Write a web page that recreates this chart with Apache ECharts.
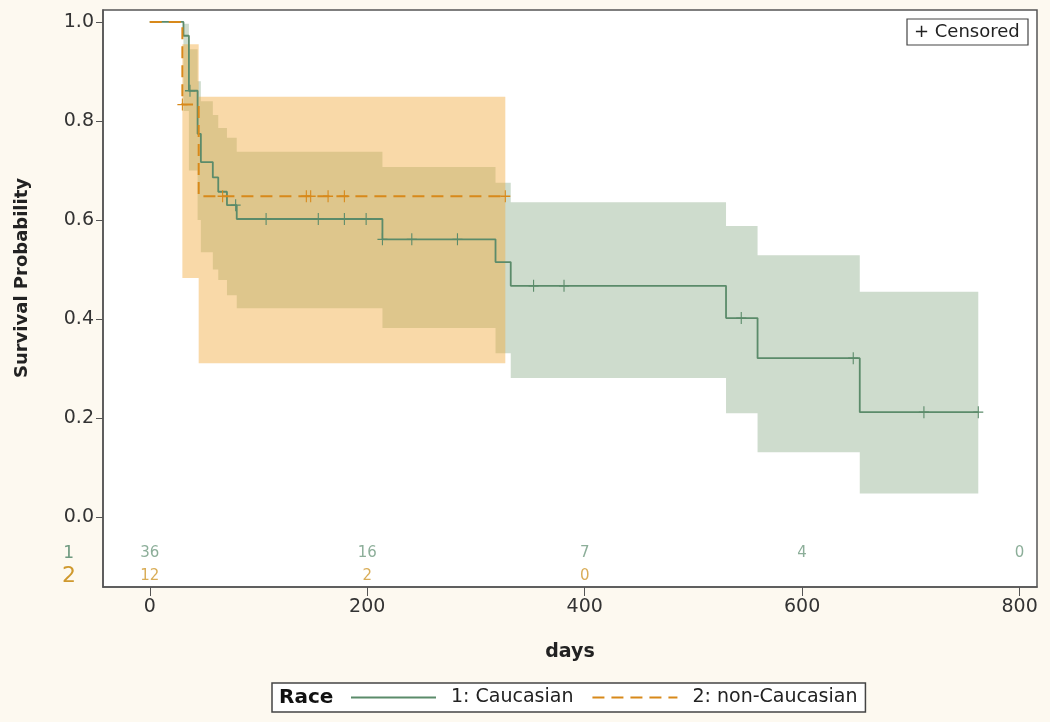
<!DOCTYPE html>
<html><head><meta charset="utf-8">
<script src="https://cdn.jsdelivr.net/npm/echarts@6/dist/echarts.min.js"></script>
<style>html,body{margin:0;padding:0;background:#fdf9f0}#c{width:1050px;height:722px}</style>
</head><body><div id="c"></div>
<script>
// ---- data ----
const xTicks = [0, 200, 400, 600, 800];
const yTicks = [0, 0.2, 0.4, 0.6, 0.8, 1.0];

// Caucasian KM step curve (value holds from time[i] to time[i+1])
const caucTime  = [0, 31, 36, 44, 47, 58, 63, 71, 80, 214, 318, 332, 530, 559, 653, 762];
const caucSurv  = [1, 0.972, 0.861, 0.774, 0.717, 0.686, 0.657, 0.630, 0.602, 0.561, 0.515, 0.467, 0.402, 0.321, 0.212, 0.212];
const caucLower = [null, 0.82, 0.70, 0.60, 0.535, 0.50, 0.479, 0.448, 0.422, 0.382, 0.331, 0.281, 0.21, 0.131, 0.048];
const caucUpper = [null, 0.996, 0.945, 0.88, 0.84, 0.812, 0.786, 0.766, 0.738, 0.707, 0.675, 0.636, 0.588, 0.529, 0.455];
const caucCensTime = [37, 79, 107, 155, 179, 199, 214, 241, 283, 353, 381, 544, 647, 712, 762];
const caucCensSurv = [0.861, 0.630, 0.602, 0.602, 0.602, 0.602, 0.561, 0.561, 0.561, 0.467, 0.467, 0.402, 0.321, 0.212, 0.212];

// non-Caucasian KM step curve
const nonTime  = [0, 30, 45, 327];
const nonSurv  = [1, 0.833, 0.648, 0.648];
const nonLower = [null, 0.483, 0.311];
const nonUpper = [null, 0.955, 0.849];
const nonCensTime = [30, 67, 144, 148, 164, 179, 327];
const nonCensSurv = [0.833, 0.648, 0.648, 0.648, 0.648, 0.648, 0.648];

// numbers at risk
const riskDays = [0, 200, 400, 600, 800];
const caucRisk = [36, 16, 7, 4, 0];
const nonRisk  = [12, 2, 0];

const seriesNames = ['1: Caucasian', '2: non-Caucasian'];

// ---- styles ----
const FONT = 'DejaVu Sans';
const GREEN = '#5b8b6a', ORANGE = '#d8891a';
const GREEN_TXT = '#6f9a80', ORANGE_TXT = '#cf992e';
const ROW1 = -0.0727, ROW2 = -0.119;

function band(times, lo, hi, fill, z) {
  return {
    type: 'custom', z: z, silent: true, data: [[0, 0]],
    renderItem: function (params, api) {
      const top = [], bot = [];
      for (let i = 0; i < lo.length; i++) {
        if (lo[i] == null) continue;
        const t0 = times[i], t1 = times[i + 1];
        top.push(api.coord([t0, hi[i]]), api.coord([t1, hi[i]]));
        bot.push(api.coord([t0, lo[i]]), api.coord([t1, lo[i]]));
      }
      return { type: 'polygon', shape: { points: top.concat(bot.reverse()) }, style: { fill: fill } };
    }
  };
}
const CROSS = 'path://M0,4.9H11V6.1H0Z M4.9,0H6.1V11H4.9Z';

const chart = echarts.init(document.getElementById('c'), null, { renderer: 'canvas' });
chart.setOption({
  backgroundColor: '#fdf9f0',
  animation: false,
  textStyle: { fontFamily: FONT },
  grid: { left: 103, right: 13, top: 10, bottom: 135, show: true, backgroundColor: '#ffffff', borderColor: '#555', borderWidth: 1.5 },
  xAxis: {
    type: 'value', min: -43, max: 816,
    name: 'days', nameLocation: 'middle', nameGap: 56,
    nameTextStyle: { fontFamily: FONT, fontSize: 19, fontWeight: 'bold', color: '#222' },
    axisLine: { show: true, onZero: false, lineStyle: { color: '#555', width: 1.5 } },
    axisTick: { show: true, customValues: xTicks, length: 9, lineStyle: { color: '#555' } },
    axisLabel: { customValues: xTicks, margin: 11, fontFamily: FONT, fontSize: 19, color: '#333' },
    splitLine: { show: false }
  },
  yAxis: {
    type: 'value', min: -0.141, max: 1.024,
    axisLine: { show: true, onZero: false, lineStyle: { color: '#555', width: 1.5 } },
    axisTick: { show: true, customValues: yTicks, length: 7, lineStyle: { color: '#555' } },
    axisLabel: {
      customValues: [ROW2, ROW1].concat(yTicks), margin: 9, fontFamily: FONT, fontSize: 19, color: '#333',
      formatter: function (v) {
        if (v < -0.1) return '{o|2}';
        if (v < -0.03) return '{g|1}';
        return v.toFixed(1);
      },
      rich: {
        g: { color: GREEN_TXT, fontFamily: FONT, fontSize: 17, padding: [0, 20, 0, 0] },
        o: { color: ORANGE_TXT, fontFamily: FONT, fontSize: 22, padding: [0, 18, 0, 0] }
      }
    },
    splitLine: { show: false }
  },
  legend: {
    data: seriesNames, left: 272, top: 683, itemWidth: 85, itemHeight: 14, itemGap: 18,
    padding: [5, 8, 5, 78], borderColor: '#444', borderWidth: 1.5, backgroundColor: '#ffffff',
    itemStyle: { opacity: 0 },
    textStyle: { fontFamily: FONT, fontSize: 19, color: '#222', padding: [0, 0, 0, 10] }
  },
  graphic: [
    { type: 'text', x: 279, y: 698, z: 100, style: { text: 'Race', fontFamily: FONT, fontSize: 20, fontWeight: 'bold', fill: '#111', textAlign: 'left', textVerticalAlign: 'middle' } },
    { type: 'text', x: 22, y: 278, rotation: Math.PI / 2, style: { text: 'Survival Probability', fontFamily: FONT, fontSize: 18, fontWeight: 'bold', fill: '#222', textAlign: 'center', textVerticalAlign: 'middle' } },
    { type: 'rect', z: 100, shape: { x: 907, y: 19, width: 121, height: 26 }, style: { fill: '#fff', stroke: '#444', lineWidth: 1.2 } },
    { type: 'text', z: 101, x: 914, y: 32, style: { text: '+ Censored', fontFamily: FONT, fontSize: 18, fill: '#222', textAlign: 'left', textVerticalAlign: 'middle' } }
  ],
  series: [
    band(caucTime, caucLower, caucUpper, '#cedccd', 1),
    band(nonTime, nonLower, nonUpper, 'rgba(242,171,62,0.45)', 2),
    {
      name: seriesNames[0], type: 'line', step: 'end', symbol: 'none', z: 5,
      data: caucTime.map((t, i) => [t, caucSurv[i]]),
      lineStyle: { color: GREEN, width: 1.8 }, itemStyle: { color: GREEN }
    },
    {
      name: seriesNames[1], type: 'line', step: 'end', symbol: 'none', z: 6,
      data: nonTime.map((t, i) => [t, nonSurv[i]]),
      lineStyle: { color: ORANGE, width: 2, type: [12, 7] }, itemStyle: { color: ORANGE }
    },
    {
      type: 'scatter', z: 7, symbol: CROSS, symbolSize: [10, 12], silent: true,
      data: caucCensTime.map((t, i) => [t, caucCensSurv[i]]), itemStyle: { color: GREEN, opacity: 1 }
    },
    {
      type: 'scatter', z: 8, symbol: CROSS, symbolSize: [10, 12], silent: true,
      data: nonCensTime.map((t, i) => [t, nonCensSurv[i]]), itemStyle: { color: ORANGE, opacity: 1 }
    },
    {
      type: 'scatter', z: 9, symbolSize: 1, silent: true, itemStyle: { color: 'rgba(0,0,0,0)' },
      data: caucRisk.map((n, i) => [riskDays[i], ROW1, n]),
      label: { show: true, position: 'inside', formatter: p => String(p.value[2]), color: GREEN_TXT, fontFamily: FONT, fontSize: 15 }
    },
    {
      type: 'scatter', z: 9, symbolSize: 1, silent: true, itemStyle: { color: 'rgba(0,0,0,0)' },
      data: nonRisk.map((n, i) => [riskDays[i], ROW2, n]),
      label: { show: true, position: 'inside', formatter: p => String(p.value[2]), color: ORANGE_TXT, fontFamily: FONT, fontSize: 15 }
    }
  ]
});
</script></body></html>
